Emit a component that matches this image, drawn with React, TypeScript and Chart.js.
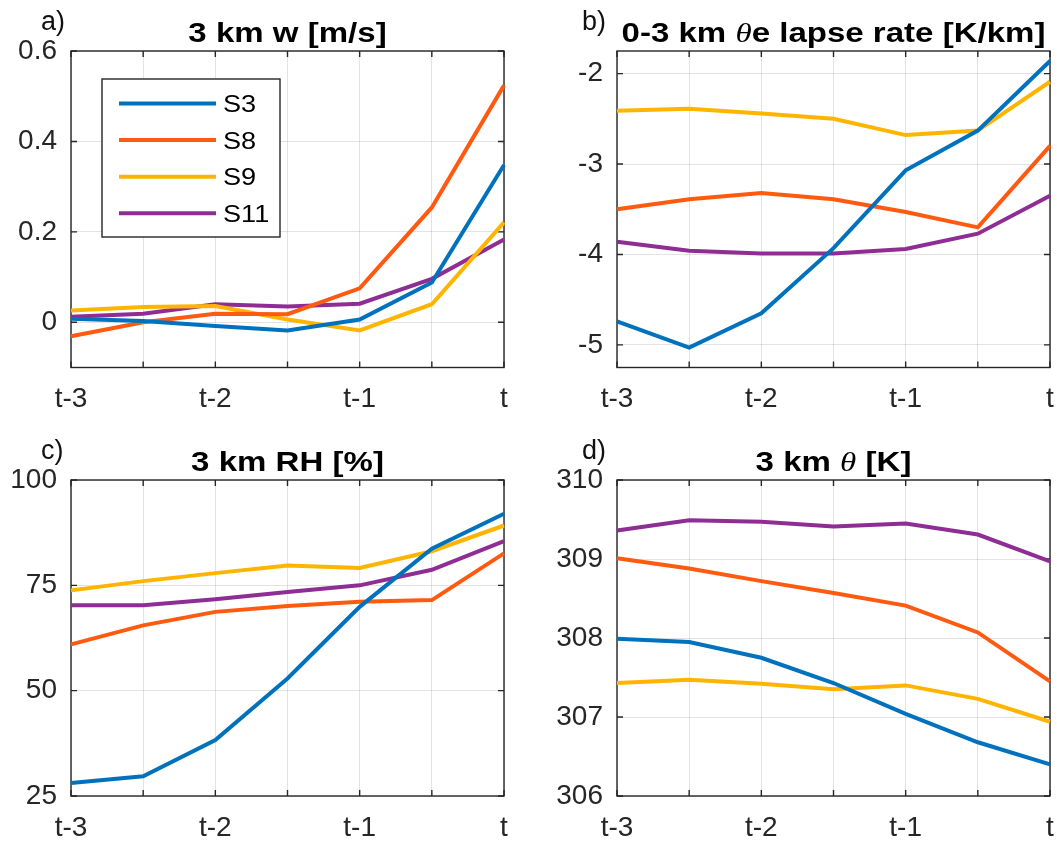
import React, { useEffect, useRef } from 'react';
import { Chart, registerables } from 'chart.js';

Chart.register(...registerables);

// ---------- data ----------
const timeLabels = ['t-3', '', 't-2', '', 't-1', '', 't'];
const seriesNames = ['S3', 'S8', 'S9', 'S11'];
const seriesColors = ['#0072BD', '#FF5A10', '#FFB400', '#8E2D94'];

// a) 3 km w [m/s]
const wS3 = [0.008, 0.003, -0.008, -0.018, 0.006, 0.088, 0.348];
const wS8 = [-0.031, 0.0, 0.019, 0.018, 0.075, 0.254, 0.524];
const wS9 = [0.026, 0.034, 0.036, 0.006, -0.018, 0.040, 0.221];
const wS11 = [0.012, 0.019, 0.040, 0.035, 0.041, 0.096, 0.183];
const wTicks = [0, 0.2, 0.4, 0.6];

// b) 0-3 km theta-e lapse rate [K/km]
const lrS3 = [-4.74, -5.03, -4.65, -3.93, -3.07, -2.63, -1.86];
const lrS8 = [-3.50, -3.39, -3.32, -3.39, -3.53, -3.70, -2.80];
const lrS9 = [-2.41, -2.39, -2.44, -2.50, -2.68, -2.63, -2.09];
const lrS11 = [-3.86, -3.96, -3.99, -3.99, -3.94, -3.77, -3.35];
const lrTicks = [-5, -4, -3, -2];

// c) 3 km RH [%]
const rhS3 = [28.1, 29.7, 38.3, 52.9, 69.9, 83.7, 92.0];
const rhS8 = [61.0, 65.5, 68.7, 70.1, 71.1, 71.5, 82.6];
const rhS9 = [73.8, 76.0, 77.9, 79.7, 79.1, 83.1, 89.2];
const rhS11 = [70.3, 70.3, 71.7, 73.4, 75.0, 78.7, 85.5];
const rhTicks = [25, 50, 75, 100];

// d) 3 km theta [K]
const thS3 = [307.99, 307.95, 307.75, 307.43, 307.04, 306.68, 306.40];
const thS8 = [309.01, 308.88, 308.72, 308.57, 308.41, 308.07, 307.45];
const thS9 = [307.43, 307.47, 307.42, 307.35, 307.40, 307.23, 306.94];
const thS11 = [309.36, 309.49, 309.47, 309.41, 309.45, 309.31, 308.97];
const thTicks = [306, 307, 308, 309, 310];

// ---------- styling ----------
const TEXT = '#262626';
const FONT = "'Liberation Sans', Arial, Helvetica, sans-serif";
const SERIF = "'Liberation Serif', 'Times New Roman', serif";
const STRETCH = 1.18;
const GRID = 'rgba(38,38,38,0.13)';
const LINE_W = 4;

type Seg = { text: string; italic?: boolean };

interface PanelSpec {
  letter: string;
  letterDx: number;
  title: Seg[];
  series: number[][];
  yMin: number;
  yMax: number;
  yTicks: number[];
  legend: boolean;
  box: { left: number; top: number; width: number; height: number };
  area: { left: number; top: number; right: number; bottom: number };
}

const panels: PanelSpec[] = [
  {
    letter: 'a)', letterDx: -30,
    title: [{ text: '3 km w [m/s]' }],
    series: [wS3, wS8, wS9, wS11],
    yMin: -0.1, yMax: 0.6, yTicks: wTicks, legend: true,
    box: { left: 0, top: 0, width: 528, height: 422 },
    area: { left: 71, top: 51, right: 504, bottom: 367.5 },
  },
  {
    letter: 'b)', letterDx: -35,
    title: [{ text: '0-3 km ' }, { text: 'θ', italic: true }, { text: 'e lapse rate [K/km]' }],
    series: [lrS3, lrS8, lrS9, lrS11],
    yMin: -5.25, yMax: -1.75, yTicks: lrTicks, legend: false,
    box: { left: 528, top: 0, width: 529, height: 422 },
    area: { left: 617, top: 51, right: 1050, bottom: 367.5 },
  },
  {
    letter: 'c)', letterDx: -30,
    title: [{ text: '3 km RH [%]' }],
    series: [rhS3, rhS8, rhS9, rhS11],
    yMin: 25, yMax: 100, yTicks: rhTicks, legend: false,
    box: { left: 0, top: 422, width: 528, height: 423 },
    area: { left: 71, top: 480, right: 504, bottom: 796 },
  },
  {
    letter: 'd)', letterDx: -35,
    title: [{ text: '3 km ' }, { text: 'θ', italic: true }, { text: ' [K]' }],
    series: [thS3, thS8, thS9, thS11],
    yMin: 306, yMax: 310, yTicks: thTicks, legend: false,
    box: { left: 528, top: 422, width: 529, height: 423 },
    area: { left: 617, top: 480, right: 1050, bottom: 796 },
  },
];

function segFont(s: Seg, size: number) {
  return s.italic ? `italic ${size}px ${SERIF}` : `bold ${size}px ${FONT}`;
}

const decorPlugin = {
  id: 'decor',
  beforeDatasetsDraw(chart: any) {
    const { ctx, chartArea } = chart;
    const { left, right, top, bottom } = chartArea;
    const xs = chart.scales.x;
    const ys = chart.scales.y;
    const tl = 6;
    ctx.save();
    ctx.strokeStyle = TEXT;
    ctx.lineWidth = 1.4;
    ctx.beginPath();
    xs.ticks.forEach((_: any, i: number) => {
      const px = xs.getPixelForTick(i);
      ctx.moveTo(px, bottom);
      ctx.lineTo(px, bottom - tl);
      ctx.moveTo(px, top);
      ctx.lineTo(px, top + tl);
    });
    ys.ticks.forEach((_: any, i: number) => {
      const py = ys.getPixelForTick(i);
      ctx.moveTo(left, py);
      ctx.lineTo(left + tl, py);
      ctx.moveTo(right, py);
      ctx.lineTo(right - tl, py);
    });
    ctx.stroke();
    ctx.strokeRect(left, top, right - left, bottom - top);
    ctx.restore();
  },
  afterDatasetsDraw(chart: any, _args: any, opts: any) {
    if (!opts.legend) return;
    const { ctx, chartArea } = chart;
    const bx = chartArea.left + 31;
    const by = chartArea.top + 28;
    const bw = 178;
    const bh = 158;
    ctx.save();
    ctx.fillStyle = '#ffffff';
    ctx.fillRect(bx, by, bw, bh);
    ctx.strokeStyle = TEXT;
    ctx.lineWidth = 1.4;
    ctx.strokeRect(bx, by, bw, bh);
    chart.data.datasets.forEach((ds: any, i: number) => {
      const y = by + 24.5 + i * 36.6;
      ctx.strokeStyle = ds.borderColor;
      ctx.lineWidth = LINE_W;
      ctx.beginPath();
      ctx.moveTo(bx + 17, y);
      ctx.lineTo(bx + 114, y);
      ctx.stroke();
      ctx.save();
      ctx.translate(bx + 121, y + 8.5);
      ctx.scale(STRETCH, 1);
      ctx.fillStyle = '#000';
      ctx.font = `23px ${FONT}`;
      ctx.textAlign = 'left';
      ctx.textBaseline = 'alphabetic';
      ctx.fillText(ds.label, 0, 0);
      ctx.restore();
    });
    ctx.restore();
  },
  afterDraw(chart: any, _args: any, opts: any) {
    const { ctx, chartArea } = chart;
    const segs: Seg[] = opts.title;
    const size = 28;
    ctx.save();
    ctx.fillStyle = '#000';
    ctx.textBaseline = 'alphabetic';
    ctx.textAlign = 'left';
    const widths = segs.map((s) => {
      ctx.font = segFont(s, size);
      return ctx.measureText(s.text).width;
    });
    const total = widths.reduce((a, b) => a + b, 0) * STRETCH;
    const cx = (chartArea.left + chartArea.right) / 2;
    ctx.save();
    ctx.translate(cx - total / 2, chartArea.top - 9);
    ctx.scale(STRETCH, 1);
    let x = 0;
    segs.forEach((s, i) => {
      ctx.font = segFont(s, size);
      ctx.fillText(s.text, x, 0);
      x += widths[i];
    });
    ctx.restore();
    // panel letter
    ctx.font = `27px ${FONT}`;
    ctx.fillStyle = '#111';
    ctx.fillText(opts.letter, chartArea.left + opts.letterDx, chartArea.top - 21);
    ctx.restore();
  },
};

function Panel({ spec }: { spec: PanelSpec }) {
  const ref = useRef<HTMLCanvasElement | null>(null);
  useEffect(() => {
    if (!ref.current) return;
    const { box, area } = spec;
    const yWidth = area.left - box.left;
    const xHeight = box.top + box.height - area.bottom;
    const chart = new Chart(ref.current, {
      type: 'line',
      data: {
        labels: timeLabels,
        datasets: spec.series.map((vals, i) => ({
          label: seriesNames[i],
          data: vals,
          borderColor: seriesColors[i],
          backgroundColor: seriesColors[i],
          borderWidth: LINE_W,
          pointRadius: 0,
          pointHoverRadius: 0,
          tension: 0,
          fill: false,
        })),
      },
      options: {
        animation: false,
        responsive: true,
        maintainAspectRatio: false,
        events: [],
        layout: {
          padding: {
            left: 0,
            top: area.top - box.top,
            right: box.left + box.width - area.right,
            bottom: 0,
          },
        },
        plugins: {
          legend: { display: false },
          tooltip: { enabled: false },
          title: { display: false },
          decor: { title: spec.title, letter: spec.letter, letterDx: spec.letterDx, legend: spec.legend },
        } as any,
        scales: {
          x: {
            type: 'category',
            offset: false,
            grid: { color: GRID, lineWidth: 1, drawTicks: false, offset: false },
            border: { display: false },
            ticks: {
              autoSkip: false,
              maxRotation: 0,
              minRotation: 0,
              padding: 15,
              color: TEXT,
              font: { family: FONT, size: 28 },
            },
            afterFit: (axis: any) => {
              axis.height = xHeight;
              axis.paddingLeft = 0;
              axis.paddingRight = 0;
            },
          },
          y: {
            type: 'linear',
            min: spec.yMin,
            max: spec.yMax,
            grid: { color: GRID, lineWidth: 1, drawTicks: false },
            border: { display: false },
            ticks: {
              padding: 14,
              color: TEXT,
              font: { family: FONT, size: 28 },
              callback: (v: any) => String(v),
            },
            afterBuildTicks: (axis: any) => {
              axis.ticks = spec.yTicks.map((v) => ({ value: v }));
            },
            afterFit: (axis: any) => {
              axis.width = yWidth;
              axis.paddingTop = 0;
              axis.paddingBottom = 0;
            },
          },
        },
      },
      plugins: [decorPlugin as any],
    });
    return () => chart.destroy();
  }, [spec]);

  const { box } = spec;
  return (
    <div
      style={{
        position: 'absolute',
        left: box.left,
        top: box.top,
        width: box.width,
        height: box.height,
      }}
    >
      <canvas ref={ref} />
    </div>
  );
}

export default function App() {
  return (
    <div
      style={{
        position: 'absolute',
        left: 0,
        top: 0,
        width: 1057,
        height: 845,
        background: '#ffffff',
        overflow: 'hidden',
      }}
    >
      {panels.map((p) => (
        <Panel key={p.letter} spec={p} />
      ))}
    </div>
  );
}
